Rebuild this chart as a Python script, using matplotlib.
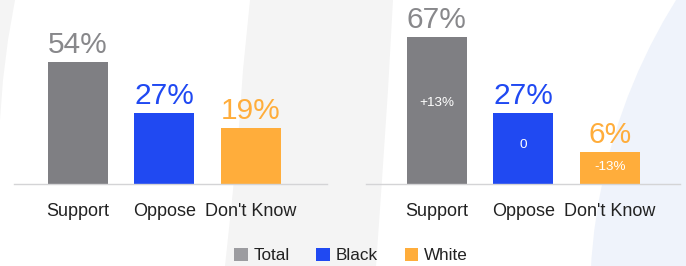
import numpy as np
import matplotlib
matplotlib.use("Agg")
import matplotlib.pyplot as plt
from matplotlib.patches import Polygon, Circle, Patch
from matplotlib import transforms

plt.rcParams['font.family'] = ['Liberation Sans', 'DejaVu Sans']

# ---- data ----
categories = ["Support", "Oppose", "Don't Know"]
left_values = [54, 27, 19]
right_values = [67, 27, 6]
right_changes = ["+13%", "0", "-13%"]
legend_labels = ["Total", "Black", "White"]

bar_colors = ["#7f7f83", "#2049f2", "#ffad3b"]
label_colors = ["#88888b", "#2049f2", "#ffad3b"]
legend_colors = ["#9c9ca0", "#2049f2", "#ffad3b"]

W, H = 686, 266
fig = plt.figure(figsize=(W / 100, H / 100), dpi=100)
fig.patch.set_facecolor("#f4f4f4")

# ---- decorative background ----
bg = fig.add_axes([0, 0, 1, 1], zorder=-10)
bg.set_xlim(0, W)
bg.set_ylim(H, 0)
bg.axis("off")
bg.add_patch(Polygon([(15, 0), (250, 0), (243, 70), (238, 140), (232, 200), (225, 266),
                      (0, 266), (0, 120), (3, 80), (8, 40)], closed=True,
                     facecolor="white", edgecolor="none"))
bg.add_patch(Polygon([(393, 0), (686, 0), (686, 266), (376, 266), (382, 180), (388, 90)],
                     closed=True, facecolor="white", edgecolor="none"))
bg.add_patch(Circle((1156, 300), 566, facecolor="#eff3fb", edgecolor="none"))

BASE = 10.8
PX_PER_UNIT = 1.89
AX_H = 184
ytop = -BASE + AX_H / PX_PER_UNIT


def panel(left_px, width_px, xlim, values, changes=None):
    ax = fig.add_axes([left_px / W, (H - 184) / H, width_px / W, AX_H / H])
    ax.set_facecolor("none")
    x = np.arange(len(values))
    vals = np.array(values, dtype=float)
    ax.bar(x, vals + BASE, bottom=-BASE, width=0.694, color=bar_colors, zorder=2)
    ax.set_xlim(*xlim)
    ax.set_ylim(-BASE, ytop)
    for s in ["top", "right", "left"]:
        ax.spines[s].set_visible(False)
    ax.spines["bottom"].set_color("#d4d4d6")
    ax.spines["bottom"].set_linewidth(1.0)
    ax.set_xticks([])
    ax.set_yticks([])
    for i, v in enumerate(values):
        ax.annotate(f"{v}%", xy=(x[i], v), xytext=(0, 9), textcoords="offset pixels",
                    ha="center", va="baseline", fontsize=21.5, color=label_colors[i])
        ax.annotate(categories[i], xy=(x[i], 0), xycoords=("data", "axes fraction"),
                    xytext=(0, -32), textcoords="offset pixels",
                    ha="center", va="baseline", fontsize=13, color="#222222")
        if changes is not None:
            ymid = -BASE + 0.55 * (v + BASE)
            ax.text(x[i], ymid, changes[i], ha="center", va="center",
                    fontsize=9.7, color="white", zorder=3)
    ax.patch.set_visible(False)
    return ax


panel(14, 313, (-0.74, 2.88), left_values)
panel(366, 314, (-0.82, 2.81), right_values, right_changes)

handles = [Patch(facecolor=c, edgecolor="none") for c in legend_colors]
leg = fig.legend(handles, legend_labels, loc="center", bbox_to_anchor=(351 / W, 10.5 / H),
                 ncol=3, frameon=False, fontsize=12.3, handlelength=0.8, handleheight=0.8,
                 handletextpad=0.35, columnspacing=1.55, borderpad=0, borderaxespad=0)
for t in leg.get_texts():
    t.set_color("#222222")

fig.savefig("out.png", dpi=100)
